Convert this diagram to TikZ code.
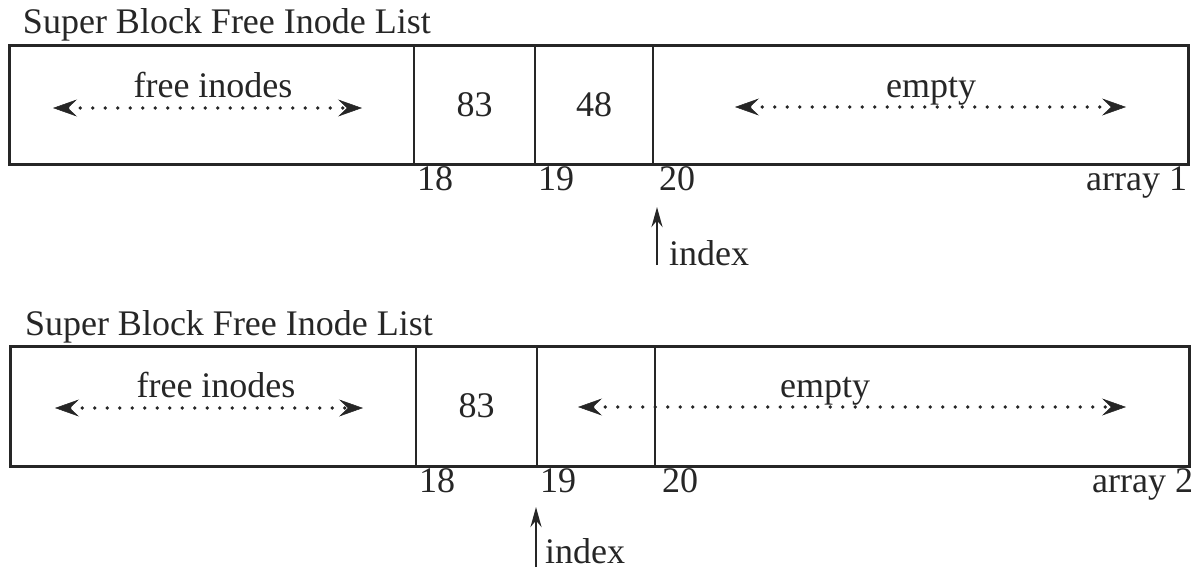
\documentclass[tikz,border=0pt]{standalone}
\usepackage{fontspec}
\setmainfont{Liberation Serif}
\usetikzlibrary{arrows.meta,positioning}
\begin{document}
\begin{tikzpicture}[x=1pt, y=-1pt, black!85,
    every node/.style={font=\fontsize{36}{43}\selectfont, inner sep=0pt, outer sep=0pt},
    cell/.style={draw, line width=1.8pt, minimum height=119pt, anchor=north west},
    frame/.style={line width=3pt},
    span/.style={line width=3.6pt, line cap=round, dash pattern=on 0pt off 12.5pt,
        {Stealth[length=24pt,width=17pt,inset=9pt,line width=0.5pt]}-{Stealth[length=24pt,width=17pt,inset=9pt,line width=0.5pt]}},
    ptr/.style={line width=2.6pt, -{Stealth[length=20pt,width=11pt]}},
    num/.style={anchor=north west, inner xsep=3pt, inner ysep=3pt}]
    \useasboundingbox (0,0) rectangle (1196,571);
    % array 1
    \node[anchor=base west] (titleA) at (23,33) {Super Block Free Inode List};
    \node[cell, minimum width=405pt] (freeA) at (9,45) {};
    \node[cell, minimum width=121pt, right=0pt of freeA] (c18A) {83};
    \node[cell, minimum width=118pt, right=0pt of c18A] (c19A) {48};
    \node[cell, minimum width=535pt, right=0pt of c19A] (emptyA) {};
    \draw[frame] (freeA.north west) rectangle (emptyA.south east);
    %
    \node[anchor=base] (freeTxtA) at (213,97) {free inodes};
    \coordinate (freeLA) at (53,108);
    \coordinate (freeRA) at (362,108);
    \draw[span] (freeLA) -- (freeRA);
    \node[anchor=base] (emptyTxtA) at (931,97) {empty};
    \coordinate (emptyLA) at (735,107);
    \coordinate (emptyRA) at (1126,107);
    \draw[span] (emptyLA) -- (emptyRA);
    %
    \node[num] (n18A) at (c18A.south west) {18};
    \node[num] (n19A) at (c19A.south west) {19};
    \node[num, inner xsep=6pt] (n20A) at (emptyA.south west) {20};
    \node[num, anchor=north east, inner xsep=1pt] (arrA) at (emptyA.south east) {array 1};
    \node[anchor=base west] (indA) at (669,265) {index};
    \coordinate (ptrA) at (657,207);
    \draw[ptr] (ptrA |- indA.base) -- (ptrA);
    % array 2
    \node[anchor=base west] (titleB) at (25,335) {Super Block Free Inode List};
    \node[cell, minimum width=406pt, minimum height=120pt] (freeB) at (10,346) {};
    \node[cell, minimum width=121pt, minimum height=120pt, right=0pt of freeB] (c18B) {83};
    \node[cell, minimum width=118pt, minimum height=120pt, right=0pt of c18B] (c19B) {};
    \node[cell, minimum width=534pt, minimum height=120pt, right=0pt of c19B] (emptyB) {};
    \draw[frame] (freeB.north west) rectangle (emptyB.south east);
    %
    \node[anchor=base] (freeTxtB) at (216,397) {free inodes};
    \coordinate (freeLB) at (55,408);
    \coordinate (freeRB) at (363,408);
    \draw[span] (freeLB) -- (freeRB);
    \node[anchor=base] (emptyTxtB) at (825,397) {empty};
    \coordinate (emptyLB) at (578,407);
    \coordinate (emptyRB) at (1126,407);
    \draw[span] (emptyLB) -- (emptyRB);
    %
    \node[num] (n18B) at (c18B.south west) {18};
    \node[num] (n19B) at (c19B.south west) {19};
    \node[num, inner xsep=7pt] (n20B) at (emptyB.south west) {20};
    \node[num, anchor=north east, inner xsep=-4pt] (arrB) at (emptyB.south east) {array 2};
    \node[anchor=base west] (indB) at (545,563) {index};
    \coordinate (ptrB) at (536,507);
    \draw[ptr] (ptrB |- indB.base) ++(0,4) -- (ptrB);
\end{tikzpicture}
\end{document}
